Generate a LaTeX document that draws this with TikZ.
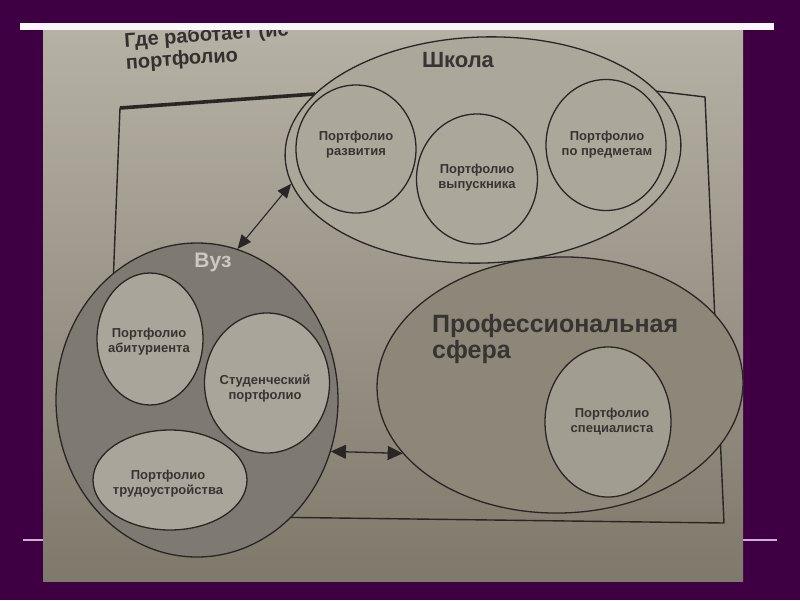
\documentclass[tikz,border=0pt]{standalone}
\usepackage{fontspec}
\setmainfont{Liberation Sans}
\usetikzlibrary{shapes.geometric,arrows.meta}
\definecolor{bgpurple}{RGB}{62,0,66}
\definecolor{lav}{RGB}{200,178,212}
\definecolor{barwhite}{RGB}{250,247,251}
\definecolor{paperTop}{RGB}{182,177,165}
\definecolor{paperBot}{RGB}{126,121,107}
\definecolor{schoolfill}{RGB}{172,167,155}
\definecolor{vuzfill}{RGB}{126,121,113}
\definecolor{proffill}{RGB}{140,135,121}
\definecolor{vuzin}{RGB}{170,165,154}
\definecolor{profin}{RGB}{162,157,145}
\definecolor{ink}{RGB}{42,38,35}
\definecolor{txt}{RGB}{56,52,49}
\definecolor{titletxt}{RGB}{52,48,45}
\definecolor{vuztxt}{RGB}{205,201,193}
\begin{document}
\begin{tikzpicture}[x=1pt,y=-1pt,
  outline/.style={draw=ink, line width=1.3pt},
  bigshape/.style={ellipse, outline, inner sep=0pt},
  circ/.style={ellipse, outline, inner sep=0pt},
  ptxt/.style={inner sep=0pt, align=center, text=txt, font=\bfseries\fontsize{13}{15}\selectfont},
  ttl/.style={anchor=west, inner sep=0pt, align=left, rotate=4, text=titletxt, font=\bfseries\fontsize{20}{22}\selectfont},
  headA/.style={draw=ink, line width=1.1pt, {Triangle[length=14pt,width=12pt]}-{Triangle[length=14pt,width=12pt]}},
  headB/.style={draw=ink, line width=1.3pt, {Triangle[length=15pt,width=14pt]}-{Triangle[length=15pt,width=14pt]}},
]
\useasboundingbox (0,0) rectangle (800,600);
% slide background
\fill[bgpurple] (0,0) rectangle (800,600);
\draw[lav, line width=2.6pt] (23,540) -- (777,540);
% photographed page
\shade[top color=paperTop, bottom color=paperBot] (43,30) rectangle (743,581);
% title (cut by the bar)
\begin{scope}
\clip (43,30) rectangle (743,581);
\node[ttl] (title) at (125,53) {Где работает (ис\\портфолио};
\end{scope}
\fill[barwhite] (20,23) rectangle (774,30);
% frame
\coordinate (fA) at (120,108);
\coordinate (fA2) at (315,94);
\coordinate (fB1) at (655,91);
\coordinate (fB) at (705,97);
\coordinate (fC) at (724,523);
\coordinate (fD) at (104,515);
\draw[ink, line width=1.4pt, line join=round] (fA) -- (fA2) -- (fB1) -- (fB) -- (fC) -- (fD) -- cycle;
\draw[ink, line width=3.6pt] (fA) -- (fA2);
% School
\node[bigshape, fill=schoolfill, minimum width=396pt, minimum height=226pt, rotate=2] (shk) at (483,150) {};
\node[circ, fill=schoolfill, minimum width=120pt, minimum height=128pt] (razv) at (356,149) {};
\node[circ, fill=schoolfill, minimum width=121pt, minimum height=130pt] (vyp) at (477,179) {};
\node[circ, fill=schoolfill, minimum width=120pt, minimum height=131pt] (pred) at (606,145) {};
\node[inner sep=0pt, text=txt, font=\bfseries\fontsize{22}{24}\selectfont] (shkT) at (458,60) {Школа};
\node[ptxt] (razvT) at (356,145) {Портфолио\\развития};
\node[ptxt] (vypT) at (477,178) {Портфолио\\выпускника};
\node[ptxt] (predT) at (607,145) {Портфолио\\по предметам};
% VUZ
\node[bigshape, fill=vuzfill, minimum width=282pt, minimum height=314pt] (vuz) at (197,400) {};
\node[circ, fill=vuzin, minimum width=106pt, minimum height=132pt] (abit) at (150,339) {};
\node[circ, fill=vuzin, minimum width=125pt, minimum height=140pt] (stud) at (267,383) {};
\node[circ, fill=vuzin, minimum width=154pt, minimum height=100pt] (trud) at (170,480) {};
\node[inner sep=0pt, text=vuztxt, font=\bfseries\fontsize{21}{23}\selectfont] (vuzT) at (213,262) {Вуз};
\node[ptxt] (abitT) at (149,342) {Портфолио\\абитуриента};
\node[ptxt] (studT) at (265,389) {Студенческий\\портфолио};
\node[ptxt] (trudT) at (168,484) {Портфолио\\трудоустройства};
% Professional sphere
\node[bigshape, fill=proffill, minimum width=366pt, minimum height=256pt, rotate=1.5] (prof) at (560,385) {};
\node[circ, fill=profin, minimum width=126pt, minimum height=150pt] (spec) at (608,422) {};
\node[anchor=north west, inner sep=0pt, align=left, text=txt, font=\bfseries\fontsize{25}{26}\selectfont] (profT) at (432,314) {Профессиональная\\сфера};
\node[ptxt] (specT) at (612,422) {Портфолио\\специалиста};
% arrows
\draw[headA] (shk.188) -- (vuz.75);
\draw[headB] (vuz.-21.7) -- (prof.202.5);
\end{tikzpicture}
\end{document}
